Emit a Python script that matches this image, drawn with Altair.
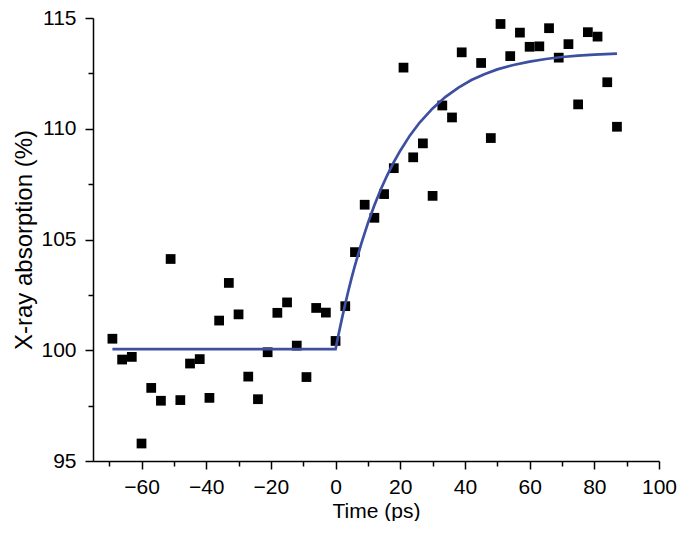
import altair as alt
import pandas as pd

# Measured data points (time in ps, X-ray absorption in %)
time_ps = [-69, -66, -63, -60, -57, -54, -51, -48, -45, -42, -39, -36, -33, -30,
           -27, -24, -21, -18, -15, -12, -9, -6, -3, 0, 3, 6, 9, 12, 15, 18, 21,
           24, 27, 30, 33, 36, 39, 45, 48, 51, 54, 57, 60, 63, 66, 69, 72, 75,
           78, 81, 84, 87]
absorption = [100.52, 99.58, 99.70, 95.79, 98.30, 97.72, 104.12, 97.75, 99.40,
              99.60, 97.85, 101.34, 103.04, 101.62, 98.81, 97.79, 99.91, 101.69,
              102.16, 100.21, 98.79, 101.91, 101.70, 100.42, 101.99, 104.43,
              106.57, 105.98, 107.05, 108.22, 112.76, 108.71, 109.34, 106.97,
              111.05, 110.51, 113.45, 112.97, 109.58, 114.73, 113.28, 114.34,
              113.70, 113.72, 114.54, 113.21, 113.82, 111.10, 114.36, 114.16,
              112.10, 110.09]

# Fit curve
fit_t = [-69, 0, 1, 2, 3, 4, 5, 6, 8, 10, 12, 14, 16, 18, 20, 23, 26, 30, 34,
         38, 42, 46, 50, 55, 60, 65, 70, 75, 80, 87]
fit_y = [100.05, 100.05, 100.77, 101.45, 102.10, 102.71, 103.29, 103.83, 104.84,
         105.74, 106.55, 107.27, 107.91, 108.49, 109.01, 109.70, 110.28, 110.92,
         111.44, 111.86, 112.20, 112.46, 112.68, 112.88, 113.03, 113.15, 113.24,
         113.30, 113.35, 113.39]

x_major = [-60, -40, -20, 0, 20, 40, 60, 80, 100]
x_minor = [-70, -50, -30, -10, 10, 30, 50, 70, 90]
y_major = [95, 100, 105, 110, 115]
y_minor = [97.5, 102.5, 107.5, 112.5]

pts = pd.DataFrame({"t": time_ps, "y": absorption})
fit = pd.DataFrame({"t": fit_t, "y": fit_y})

FONT = "Liberation Sans"
common = dict(grid=False, labelFont=FONT, titleFont=FONT, titleFontWeight="normal",
              labelColor="black", titleColor="black", domainColor="black",
              tickColor="black", domainWidth=1.5, tickWidth=1.5)

x_axis = alt.Axis(values=x_major, orient="bottom", labelOverlap=False, labelFlush=False,
                  tickSize=8, title="Time (ps)", labelFontSize=21, titleFontSize=21,
                  labelPadding=7, titlePadding=3, **common)
y_axis = alt.Axis(values=y_major, orient="left", labelOverlap=False, tickSize=8,
                  title="X-ray absorption (%)", labelFontSize=21, titleFontSize=24,
                  labelPadding=9, titlePadding=4, **common)
x_axis_minor = alt.Axis(values=x_minor, orient="bottom", labels=False, domain=False,
                        tickSize=5, title=None, grid=False, tickColor="black", tickWidth=1.5)
y_axis_minor = alt.Axis(values=y_minor, orient="left", labels=False, domain=False,
                        tickSize=5, title=None, grid=False, tickColor="black", tickWidth=1.5)

xs = alt.Scale(domain=[-75, 100], nice=False, zero=False)
ys = alt.Scale(domain=[95, 115], nice=False, zero=False)

squares = alt.Chart(pts).mark_square(size=95, color="black", opacity=1).encode(
    x=alt.X("t:Q", scale=xs, axis=x_axis),
    y=alt.Y("y:Q", scale=ys, axis=y_axis),
)
curve = alt.Chart(fit).mark_line(color="#3d4fa1", strokeWidth=2.7).encode(
    x=alt.X("t:Q", scale=xs, axis=x_axis_minor),
    y=alt.Y("y:Q", scale=ys, axis=y_axis_minor),
)

chart = alt.layer(squares, curve).resolve_axis(x="independent", y="independent").properties(
    width=566, height=443,
    padding={"left": 85, "top": 10, "right": 18, "bottom": 60},
    autosize="none",
    background="white",
).configure_view(stroke=None)

chart.save("out.html", embed_options={"renderer": "svg", "actions": False})
